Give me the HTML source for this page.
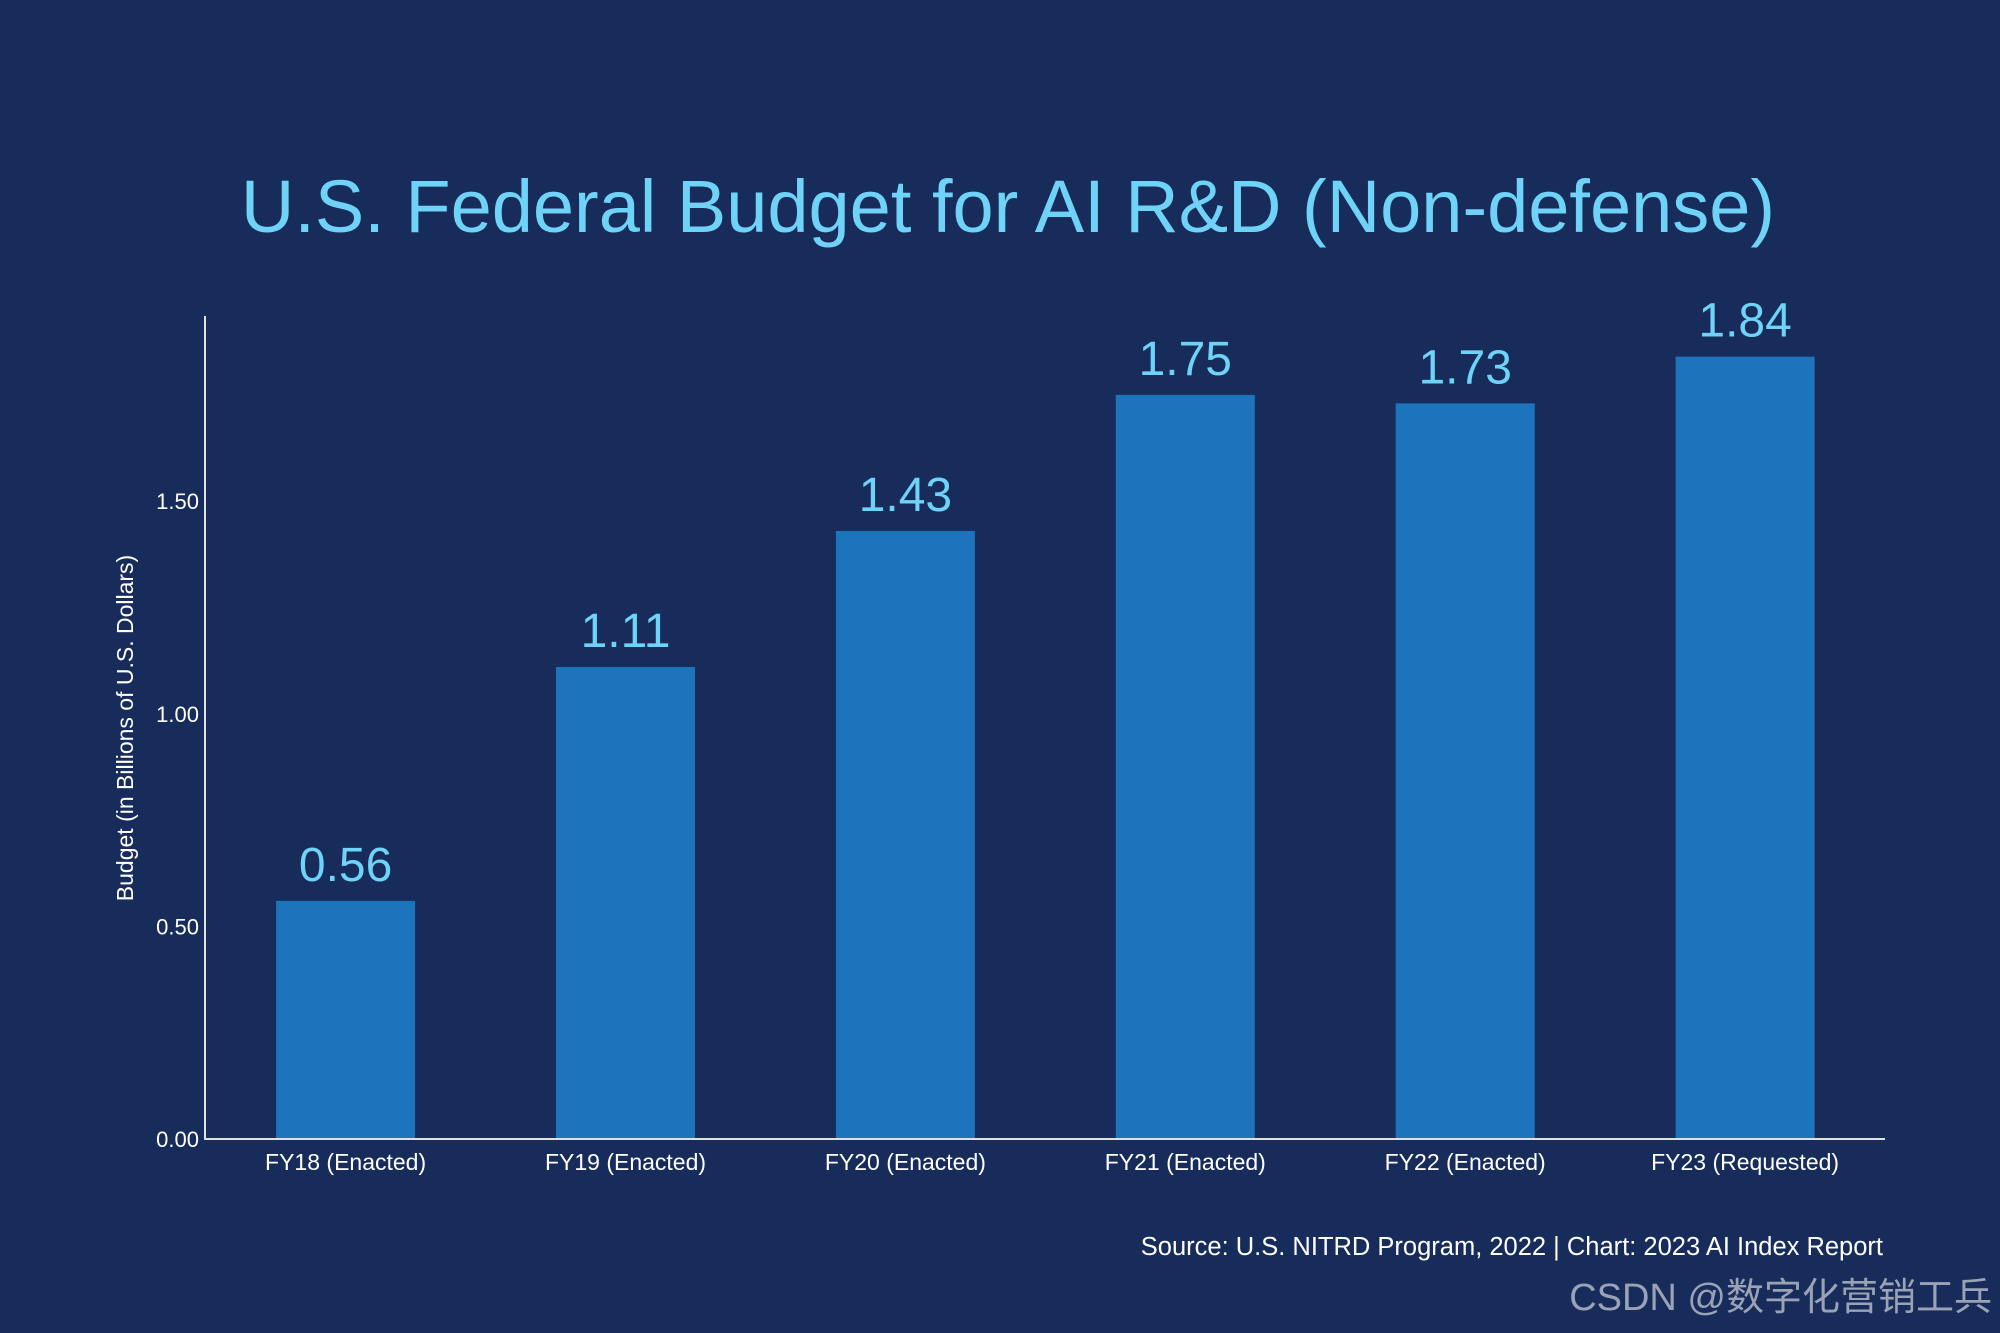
<!DOCTYPE html>
<html><head><meta charset="utf-8"><style>
body{margin:0;background:#172c5b;}
svg{display:block;font-family:"Liberation Sans","Noto Sans CJK SC",sans-serif;}
</style></head><body>
<svg id="c" width="2000" height="1333" viewBox="0 0 2000 1333">
<rect width="2000" height="1333" fill="#172c5b"/>
<text x="1008" y="232" text-anchor="middle" font-size="74" fill="#6fd3f7">U.S. Federal Budget for AI R&amp;D (Non-defense)</text>
<g id="bars"></g>
<line x1="205" y1="316" x2="205" y2="1140" stroke="#e0e0e0" stroke-width="2"/>
<line x1="204" y1="1139" x2="1885" y2="1139" stroke="#e0e0e0" stroke-width="2"/>
<g id="yt"></g>
<text transform="translate(133,728) rotate(-90)" text-anchor="middle" font-size="23" fill="#fff">Budget (in Billions of U.S. Dollars)</text>
<text x="1883" y="1255" text-anchor="end" font-size="25.5" fill="#fff">Source: U.S. NITRD Program, 2022 | Chart: 2023 AI Index Report</text>
<text x="1992" y="1310" text-anchor="end" font-size="38" fill="#9aa3b5">CSDN @数字化营销工兵</text>
</svg>
<script>
const categories=["FY18 (Enacted)","FY19 (Enacted)","FY20 (Enacted)","FY21 (Enacted)","FY22 (Enacted)","FY23 (Requested)"];
const values=[0.56,1.11,1.43,1.75,1.73,1.84];
const valueLabels=["0.56","1.11","1.43","1.75","1.73","1.84"];
const yTicks=[0,0.5,1.0,1.5];
const yTickLabels=["0.00","0.50","1.00","1.50"];
const NS="http://www.w3.org/2000/svg";
const y=v=>1139-v*425.2;
const xc=i=>345.6+i*279.9;
const bw=139;
const bars=document.getElementById('bars'),yt=document.getElementById('yt');
function mk(t,a,p){const e=document.createElementNS(NS,t);for(const k in a)e.setAttribute(k,a[k]);p.appendChild(e);return e;}
categories.forEach((c,i)=>{
 const r=mk('rect',{x:xc(i)-bw/2,y:y(values[i]),width:bw,height:1139-y(values[i]),fill:'#1c75bc'},bars);
 
 
 const l=mk('text',{x:xc(i),y:y(values[i])-20,'text-anchor':'middle','font-size':48,fill:'#6fd3f7'},bars);
 l.textContent=valueLabels[i];
 
 
 const t=mk('text',{x:xc(i),y:1170,'text-anchor':'middle','font-size':23,fill:'#fff'},bars);
 t.textContent=c;
 
 
});
yTicks.forEach((v,i)=>{
 const t=mk('text',{x:199,y:y(v)+8,'text-anchor':'end','font-size':22,fill:'#fff'},yt);
 t.textContent=yTickLabels[i];
 
 
});
</script>
</body></html>
